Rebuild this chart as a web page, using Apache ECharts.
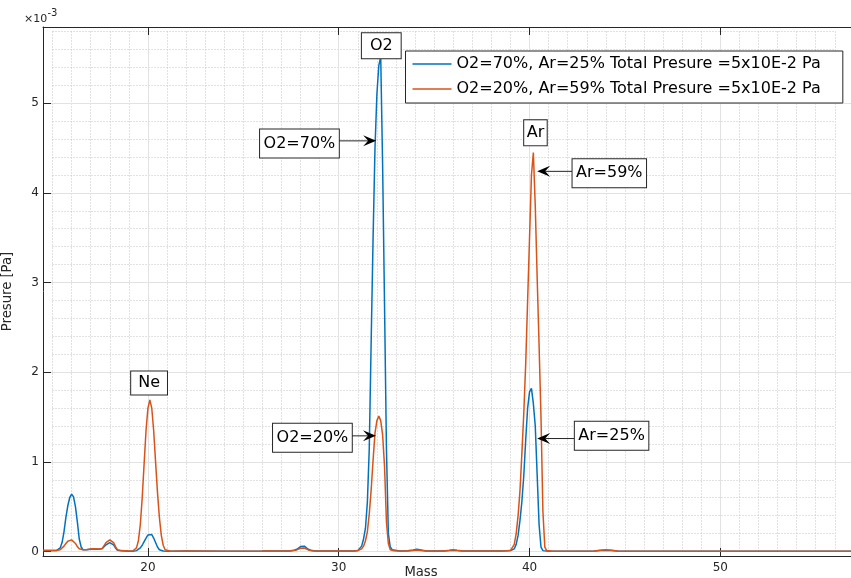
<!DOCTYPE html>
<html><head><meta charset="utf-8">
<script src="https://cdn.jsdelivr.net/npm/echarts@6/dist/echarts.min.js"></script>
<style>html,body{margin:0;padding:0;background:#fff}#c{width:851px;height:578px}</style>
</head><body><div id="c"></div>
<script>
// ---------- DATA (pressure values in units of 1e-3 Pa) ----------
const mass = [
  14.5, 14.8, 15.0, 15.2,
  15.3, 15.4, 15.5, 15.6, 15.7, 15.8, 15.9, 16.0, 16.1, 16.2, 16.3, 16.4, 16.5, 16.6,
  16.8, 17.0, 17.2, 17.4, 17.5,
  17.6, 17.7, 17.8, 17.9, 18.0, 18.1, 18.2, 18.3, 18.4,
  18.6, 18.8, 19.0, 19.2, 19.3,
  19.4, 19.5, 19.6, 19.7, 19.8, 19.9, 20.0, 20.1, 20.2, 20.3, 20.4, 20.5, 20.6, 20.7, 20.8, 20.9,
  21.2, 22, 24, 26, 27.4,
  27.6, 27.8, 27.9, 28.0, 28.1, 28.2, 28.3, 28.4, 28.6, 28.8,
  29.5, 30.5, 30.8,
  31.0, 31.1, 31.2, 31.3, 31.4, 31.5, 31.6, 31.7, 31.8, 31.9, 32.0, 32.1, 32.2, 32.3, 32.4, 32.5, 32.6, 32.7, 32.8, 32.9,
  33.2, 33.6, 33.9, 34.1, 34.3, 34.6,
  35.5, 35.8, 36.0, 36.2, 36.5,
  37.5, 38.5, 38.8,
  39.0, 39.1, 39.2, 39.3, 39.4, 39.5, 39.6, 39.7, 39.8, 39.9, 40.0, 40.1, 40.2, 40.3, 40.4, 40.5, 40.6, 40.7, 40.8, 40.9,
  41.2, 42, 43.4, 43.7, 44.0, 44.3, 44.6, 45.5, 48, 52, 57
];
const pressureA = [ // O2=70%, Ar=25%
  0.01, 0.01, 0.01, 0.01,
  0.015, 0.04, 0.1, 0.22, 0.38, 0.51, 0.6, 0.64, 0.61, 0.5, 0.33, 0.14, 0.05, 0.02,
  0.02, 0.025, 0.028, 0.025, 0.022,
  0.03, 0.05, 0.075, 0.095, 0.1, 0.095, 0.075, 0.04, 0.015,
  0.008, 0.006, 0.004, 0.004, 0.005,
  0.01, 0.02, 0.04, 0.07, 0.11, 0.15, 0.185, 0.2, 0.19, 0.15, 0.1, 0.05, 0.02, 0.01, 0.006, 0.005,
  0.004, 0.005, 0.004, 0.005, 0.006,
  0.01, 0.025, 0.04, 0.055, 0.063, 0.06, 0.045, 0.025, 0.01, 0.006,
  0.005, 0.005, 0.007,
  0.01, 0.02, 0.06, 0.14, 0.26, 0.55, 1.15, 2.35, 3.5, 4.5, 5.1, 5.42, 5.52, 4.3, 2.75, 1.15, 0.2, 0.05, 0.02, 0.01,
  0.006, 0.008, 0.018, 0.025, 0.018, 0.007,
  0.006, 0.01, 0.014, 0.01, 0.006,
  0.005, 0.006, 0.008,
  0.01, 0.01, 0.03, 0.08, 0.18, 0.35, 0.56, 0.85, 1.25, 1.6, 1.78, 1.82, 1.65, 1.4, 0.85, 0.3, 0.05, 0.01, 0.006, 0.005,
  0.004, 0.004, 0.005, 0.01, 0.014, 0.01, 0.005, 0.004, 0.004, 0.004, 0.004
];
const pressureB = [ // O2=20%, Ar=59%
  0.01, 0.01, 0.012, 0.012,
  0.015, 0.02, 0.035, 0.06, 0.09, 0.115, 0.13, 0.13, 0.12, 0.09, 0.055, 0.03, 0.02, 0.02,
  0.022, 0.028, 0.03, 0.028, 0.025,
  0.035, 0.065, 0.1, 0.122, 0.13, 0.125, 0.1, 0.055, 0.02,
  0.01, 0.008, 0.006, 0.006, 0.01,
  0.04, 0.12, 0.3, 0.6, 0.98, 1.35, 1.6, 1.69, 1.6, 1.35, 1.0, 0.66, 0.38, 0.18, 0.07, 0.02,
  0.004, 0.005, 0.004, 0.005, 0.006,
  0.01, 0.018, 0.028, 0.036, 0.04, 0.038, 0.03, 0.018, 0.008, 0.005,
  0.005, 0.005, 0.007,
  0.01, 0.012, 0.03, 0.06, 0.12, 0.22, 0.42, 0.69, 1.02, 1.32, 1.46, 1.51, 1.46, 1.3, 0.95, 0.33, 0.09, 0.02, 0.01, 0.008,
  0.006, 0.007, 0.012, 0.016, 0.012, 0.006,
  0.006, 0.014, 0.02, 0.014, 0.006,
  0.005, 0.006, 0.008,
  0.01, 0.03, 0.08, 0.2, 0.4, 0.68, 1.1, 1.55, 2.1, 2.8, 3.5, 4.2, 4.45, 3.85, 3.05, 2.3, 1.5, 0.45, 0.05, 0.01,
  0.004, 0.004, 0.006, 0.015, 0.02, 0.015, 0.006, 0.004, 0.004, 0.004, 0.004
];
const seriesNames = ['O2=70%, Ar=25% Total Presure =5x10E-2 Pa', 'O2=20%, Ar=59% Total Presure =5x10E-2 Pa'];
const xTicks = [20, 30, 40, 50];
const yTicks = [0, 1, 2, 3, 4, 5];
const xTitle = 'Mass';
const yTitle = 'Presure [Pa]';
const peakLabels = ['O2', 'Ar', 'Ne'];
const peakLabelPos = [[32.23, 5.64], [40.31, 4.67], [20.06, 1.88]];
const arrowTexts = ['O2=70%', 'O2=20%', 'Ar=59%', 'Ar=25%'];
const arrowBoxPos = [[27.94, 4.55], [28.62, 1.27], [44.18, 4.22], [44.30, 1.29]];
const arrowTipPos = [[31.96, 4.58], [31.95, 1.29], [40.40, 4.24], [40.40, 1.26]];

// ---------- LAYOUT / STYLE ----------
const FONT = '"DejaVu Sans", Verdana, sans-serif';
const TXT = '#262626';
const L = 43, T = 27, BOT = 556, W = 851 - L, H = BOT - T;
const xMin = 14.5, pxPerX = 19.08, xMax = xMin + W / pxPerX;
const yMin = -0.05, yMax = 5.85, pxPerY = H / (yMax - yMin);
const mx0 = 15, mx1 = 56, my0 = 0, my1 = 5.8;
const minorGrid = {
  left: L + (mx0 - xMin) * pxPerX, width: (mx1 - mx0) * pxPerX,
  top: T + (yMax - my1) * pxPerY, height: (my1 - my0) * pxPerY,
  outerBoundsMode: 'none', containLabel: false
};
const peakPad = [[3, 8], [3, 2.5], [2, 7]];
const minorLine = { show: true, lineStyle: { color: '#c4c4c4', width: 1, type: [1, 2] } };
const majorLine = { show: true, lineStyle: { color: '#e2e2e2', width: 1 } };
const axisLineSty = { show: true, onZero: false, lineStyle: { color: TXT, width: 1 } };

const chart = echarts.init(document.getElementById('c'), null, { renderer: 'canvas' });
chart.setOption({
  animation: false,
  backgroundColor: '#fff',
  textStyle: { fontFamily: FONT },
  grid: [
    { left: L, top: T, width: W, height: H, outerBoundsMode: 'none', containLabel: false },
    minorGrid
  ],
  legend: {
    data: seriesNames.map(n => ({ name: n, icon: 'rect' })),
    orient: 'vertical', left: 405.5, top: 51,
    itemWidth: 39, itemHeight: 1.5, itemGap: 7,
    padding: [4, 22, 5, 7],
    backgroundColor: '#fff', borderColor: TXT, borderWidth: 1, borderRadius: 0,
    textStyle: { fontSize: 16, color: '#000', fontFamily: FONT, lineHeight: 18 },
    z: 20
  },
  xAxis: [
    { type: 'value', gridIndex: 0, min: xMin, max: xMax, position: 'bottom', z: 3,
      axisLine: axisLineSty,
      axisTick: { show: true, inside: true, length: 8, customValues: xTicks, lineStyle: { color: TXT } },
      axisLabel: { customValues: xTicks, color: TXT, fontSize: 12, margin: 6, fontFamily: FONT },
      splitLine: majorLine },
    { type: 'value', gridIndex: 0, min: xMin, max: xMax, position: 'top', z: 3,
      axisLine: axisLineSty,
      axisTick: { show: true, inside: true, length: 8, customValues: xTicks, lineStyle: { color: TXT } },
      axisLabel: { show: false }, splitLine: { show: false } },
    { type: 'value', gridIndex: 1, min: mx0, max: mx1, interval: 1, z: 1,
      axisLine: { show: false }, axisTick: { show: false }, axisLabel: { show: false },
      splitLine: minorLine }
  ],
  yAxis: [
    { type: 'value', gridIndex: 0, min: yMin, max: yMax, position: 'left', z: 3,
      axisLine: axisLineSty,
      axisTick: { show: true, inside: true, length: 8, customValues: yTicks, lineStyle: { color: TXT } },
      axisLabel: { customValues: yTicks, color: TXT, fontSize: 12, margin: 4, fontFamily: FONT },
      splitLine: majorLine,
      name: yTitle, nameLocation: 'middle', nameGap: 29,
      nameTextStyle: { color: TXT, fontSize: 13.2, fontFamily: FONT } },
    { type: 'value', gridIndex: 1, min: my0, max: my1, interval: 0.2, z: 1,
      axisLine: { show: false }, axisTick: { show: false }, axisLabel: { show: false },
      splitLine: minorLine }
  ],
  series: [
    { name: seriesNames[0], type: 'line', xAxisIndex: 0, yAxisIndex: 0, symbol: 'none',
      color: '#0072BD', lineStyle: { color: '#0072BD', width: 1.5 },
      data: mass.map((m, i) => [m, pressureA[i]]), z: 5 },
    { name: seriesNames[1], type: 'line', xAxisIndex: 0, yAxisIndex: 0, symbol: 'none',
      color: '#D95319', lineStyle: { color: '#D95319', width: 1.5 },
      data: mass.map((m, i) => [m, pressureB[i]]), z: 6 }
  ]
});

// ---------- ANNOTATIONS (anchored in data coordinates) ----------
const toPx = p => chart.convertToPixel({ gridIndex: 0 }, p);
const boxStyle = {
  fontSize: 16, fontFamily: FONT, fill: '#000', backgroundColor: '#fff',
  borderColor: TXT, borderWidth: 1, lineHeight: 19,
  align: 'center', verticalAlign: 'middle'
};
const gfx = [];
peakLabels.forEach((t, i) => {
  const p = toPx(peakLabelPos[i]);
  gfx.push({ type: 'text', x: p[0], y: p[1], z: 102,
    style: Object.assign({ text: t }, boxStyle, { padding: peakPad[i] }) });
});
arrowTexts.forEach((t, i) => {
  const b = toPx(arrowBoxPos[i]), tip = toPx(arrowTipPos[i]);
  const start = [b[0], tip[1]];
  const dx = tip[0] - start[0], dy = tip[1] - start[1], len = Math.hypot(dx, dy);
  const ux = dx / len, uy = dy / len, nx = -uy, ny = ux;
  const HL = 13, HW = 5.5, NOTCH = 8;
  const back = [tip[0] - ux * HL, tip[1] - uy * HL];
  const notch = [tip[0] - ux * NOTCH, tip[1] - uy * NOTCH];
  gfx.push({ type: 'line', z: 100, shape: { x1: start[0], y1: start[1], x2: notch[0], y2: notch[1] },
    style: { stroke: TXT, lineWidth: 1 } });
  gfx.push({ type: 'polygon', z: 101,
    shape: { points: [tip, [back[0] + nx * HW, back[1] + ny * HW], notch, [back[0] - nx * HW, back[1] - ny * HW]] },
    style: { fill: '#000' } });
  gfx.push({ type: 'text', x: b[0], y: b[1], z: 102,
    style: Object.assign({ text: t }, boxStyle, { padding: [4.5, 3.5] }) });
});
// exponent label and x-axis title
gfx.push({ type: 'text', x: 24, y: 19.5, z: 102,
  style: { text: '×10', fontSize: 11, fontFamily: FONT, fill: TXT, align: 'left', verticalAlign: 'middle' } });
gfx.push({ type: 'text', x: 47.5, y: 13.2, z: 102,
  style: { text: '-3', fontSize: 10, fontFamily: FONT, fill: TXT, align: 'left', verticalAlign: 'middle' } });
gfx.push({ type: 'text', x: 421, y: 572.5, z: 102,
  style: { text: xTitle, fontSize: 13.2, fontFamily: FONT, fill: TXT, align: 'center', verticalAlign: 'middle' } });
chart.setOption({ graphic: gfx });
</script></body></html>
